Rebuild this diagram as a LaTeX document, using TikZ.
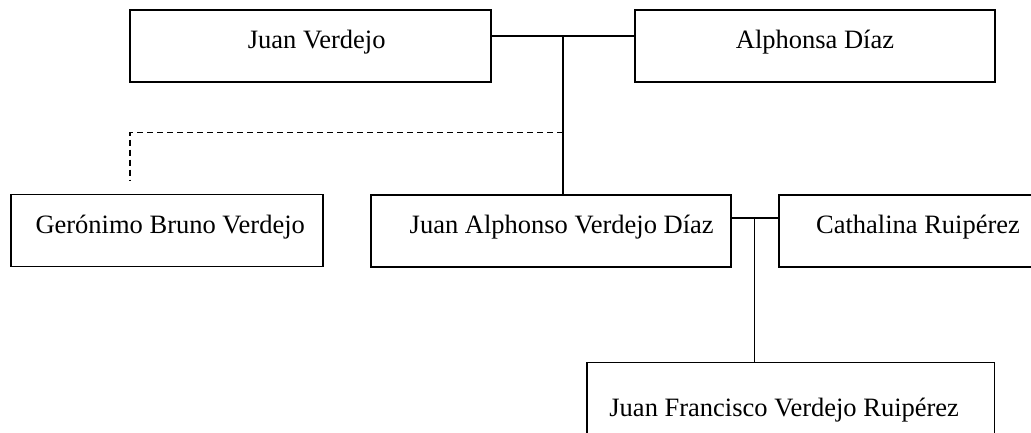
\documentclass[tikz,border=0pt]{standalone}
\usepackage{fontspec}
\setmainfont{Liberation Serif}
\begin{document}
\begin{tikzpicture}[x=1pt,y=-1pt,
  person/.style={draw, line width=1.6pt, rectangle, minimum height=72pt, inner sep=0pt},
  nametext/.style={anchor=base, inner sep=0pt, font=\fontsize{26.5}{30}\selectfont},
  link/.style={line width=1.6pt},
  dashlink/.style={line width=1.6pt, dash pattern=on 6pt off 4pt}]
\useasboundingbox (0,0) rectangle (1031,432);
\clip (0,0) rectangle (1031,432);
% boxes
\node[person, minimum width=361pt] (jv) at (310.5,46) {};
\node[person, minimum width=360pt] (ad) at (815,46) {};
\node[person, minimum width=312pt] (gb) at (166.7,230.5) {};
\node[person, minimum width=360.3pt] (ja) at (550.85,230.7) {};
\node[person, minimum width=262pt] (cr) at (909.7,230.7) {};
\node[person, minimum width=407.6pt, minimum height=84pt] (jf) at (790.5,404.5) {};
% texts
\node[nametext] (tjv) at (316.7,48) {Juan Verdejo};
\node[nametext] (tad) at (815,48) {Alphonsa Díaz};
\node[nametext] (tgb) at (170.2,233.3) {Gerónimo Bruno Verdejo};
\node[nametext] (tja) at (561.7,233.3) {Juan Alphonso Verdejo Díaz};
\node[nametext] (tcr) at (918,233.2) {Cathalina Ruipérez};
\node[nametext] (tjf) at (784.2,416.7) {Juan Francisco Verdejo Ruipérez};
% connectors
\coordinate (m1) at (562.7,35.7);
\coordinate (d1) at (562.7,132.3);
\coordinate (d2) at (130,132.3);
\coordinate (d3) at (130,180);
\coordinate (m2) at (754.5,218);
\draw[link] (jv.east |- m1) -- (ad.west |- m1);
\draw[link] (m1) -- (m1 |- ja.north);
\draw[dashlink] (d1) -- (d2) -- (d3);
\draw[link] (ja.east |- m2) -- (cr.west |- m2);
\draw[link] (m2) -- (m2 |- jf.north);
\end{tikzpicture}
\end{document}
